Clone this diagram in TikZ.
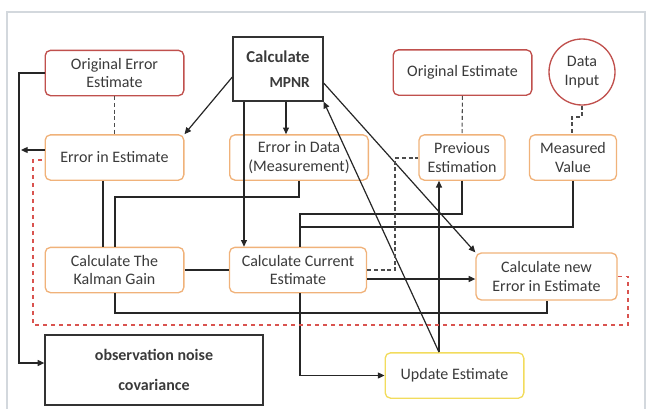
\documentclass[tikz,border=0pt]{standalone}
\usepackage{fontspec}
\setmainfont{Carlito}
\usetikzlibrary{arrows.meta}

\definecolor{boxred}{HTML}{C0504D}
\definecolor{boxorange}{HTML}{F0B27A}
\definecolor{boxyellow}{HTML}{F2DC5D}
\definecolor{txtgray}{HTML}{3A3A3A}
\definecolor{loopred}{HTML}{D9534F}
\definecolor{framegray}{HTML}{D3D8DD}

\tikzset{
  box/.style={draw, rounded corners=4pt, line width=1pt, align=center, text=txtgray,
    inner sep=0pt, minimum width=104pt, minimum height=34pt, font=\fontsize{12}{14}\selectfont},
  redbox/.style={box, draw=boxred},
  orbox/.style={box, draw=boxorange},
  ylbox/.style={box, draw=boxyellow},
  blkbox/.style={draw=black!80, line width=1pt, align=center, text=txtgray, inner sep=0pt},
  link/.style={draw=black!85, line width=0.9pt},
  dlink/.style={draw=black!70, line width=0.8pt, densely dashed},
}

\begin{document}
\begin{tikzpicture}[x=0.75pt, y=-0.75pt, >={Triangle[length=5pt,width=4.5pt]}]
    \useasboundingbox (0,0) rectangle (649,408);
    \draw[framegray, line width=1pt] (7,12) rectangle (645,412);

    \node[redbox] (origerr) at (114.5,73) {Original Error\\Estimate};
    \node[blkbox, minimum width=67.5pt, minimum height=48pt, font=\fontsize{12.5}{14}\selectfont\bfseries] (mpnr) at (278,69)
        {Calculate\\[5pt]\hspace*{1.4em}{\fontsize{11.5}{12}\selectfont MPNR}};
    \node[orbox] (errest)   at (114.5,157.5) {Error in Estimate};
    \node[orbox] (errdata)  at (299,157.5) {Error in Data\\(Measurement)};
    \node[redbox] (origest) at (462.5,72.5) {Original Estimate};
    \node[redbox, circle, minimum width=49.5pt] (datain) at (582,72) {Data\\Input};
    \node[orbox, minimum width=64.5pt] (prevest) at (462,157.5) {Previous\\Estimation};
    \node[orbox, minimum width=65.25pt] (measval) at (573,157.5) {Measured\\Value};
    \node[orbox] (kalman)   at (114.5,270) {Calculate The\\Kalman Gain};
    \node[orbox, minimum width=102.75pt] (curest) at (298,270) {Calculate Current\\Estimate};
    \node[orbox, minimum width=105.75pt, minimum height=35.25pt] (newerr) at (546.5,276.5) {Calculate new\\Error in Estimate};
    \node[blkbox, minimum width=163.5pt, minimum height=52.5pt, font=\fontsize{12}{22}\selectfont\bfseries]
        (obsnoise) at (154,370) {observation noise\\covariance};
    \node[ylbox] (update)   at (454.5,375.5) {Update Estimate};

    % left side
    \draw[link,->] (origerr.west) -| (19,363) -- (obsnoise.west |- 0,363);
    \draw[link,->] (errest.west |- 0,150) -- (21,150);
    \draw[dlink] (origerr) -- (errest);

    % from MPNR
    \draw[link,->] (mpnr.west |- 0,77) -- (errest.north east);
    \draw[link,->] (mpnr.south -| 286,0) -- (errdata.north -| 286,0);
    \draw[link,->] (mpnr.south -| 244,0) -- (curest.north -| 244,0);
    \draw[link,->] (mpnr.east |- 0,83) -- (newerr.north west);

    % from update
    \draw[link,->] (update.north -| 439,0) -- (mpnr.south east);
    \draw[link,->] (update.north -| 439,0) -- (prevest.south -| 439,0);

    % into the gain
    \draw[link] (errest.south -| 103,0) -- (kalman.north -| 103,0);
    \draw[link] (errdata.south) |- (115,197) -- (kalman.north -| 115,0);
    \draw[link] (kalman) -- (curest);
    \draw[link] (kalman.south -| 115,0) |- (547,313) -- (newerr.south -| 547,0);

    % into the current estimate
    \draw[link] (prevest.south) |- (300,214) -- (curest.north -| 300,0);
    \draw[link] (measval.south) |- (300,227);
    \draw[dlink] (curest.east) -| (395,158) -- (prevest.west |- 0,158);
    \draw[link,->] (curest.east |- 0,279) -- (newerr.west |- 0,279);
    \draw[link,->] (curest.south -| 300,0) |- (update.west);

    % estimates
    \draw[dlink] (origest) -- (prevest);
    \draw[dlink] (datain.south) -- (582,117) -| (measval.north -| 572,0);

    % loop back
    \draw[loopred, dashed, line width=0.9pt] (newerr.east) -- (628,276.5) -- (628,325)
        -- (33,325) -- (33,160) -- (errest.west |- 0,160);
\end{tikzpicture}
\end{document}
